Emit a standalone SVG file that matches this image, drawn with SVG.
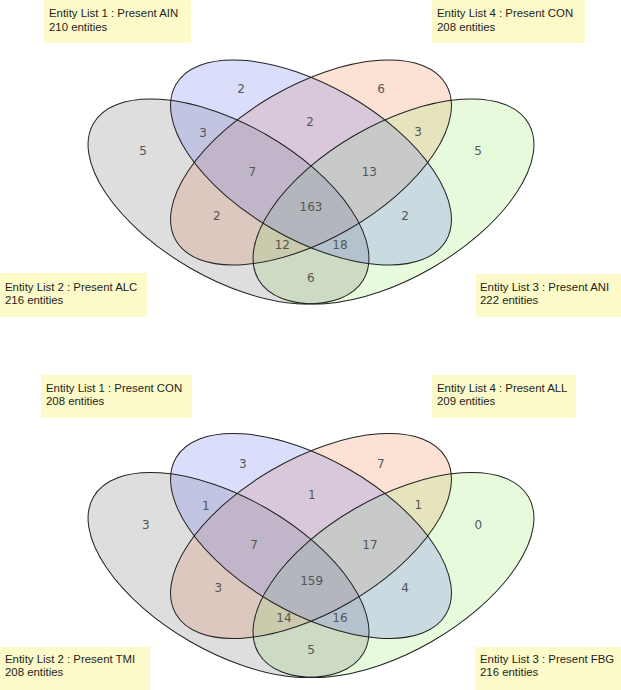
<svg xmlns="http://www.w3.org/2000/svg" xmlns:xlink="http://www.w3.org/1999/xlink" width="621" height="690" viewBox="0 0 621 690">
<style>
.bg{fill:#ffffff}
.box{fill:#fcfac8}
.lbl{font-family:"Liberation Sans",Arial,sans-serif;font-size:11.4px;fill:#1e1e1e}
.n{font-family:"DejaVu Sans",Verdana,sans-serif;font-size:12px;fill:#555555;text-anchor:middle}
.f{stroke:none;fill-opacity:0.25}
.blue{fill:#6b7beb}
.gray{fill:#7b7b7b}
.green{fill:#a3eb73}
.orange{fill:#f38b53}
.o{fill:none;stroke:#222222;stroke-width:1}
</style>
<defs>
<ellipse id="E" cx="0" cy="0" rx="156" ry="76.75"/>
</defs>
<rect class="bg" x="0" y="0" width="621" height="690"/>

<g id="venn-top">
  <g id="top-set4-CON"><use xlink:href="#E" class="f orange" transform="translate(311,162.5) rotate(-30)"/></g>
  <g id="top-set3-ANI"><use xlink:href="#E" class="f green" transform="translate(393.5,201.5) rotate(-30)"/></g>
  <g id="top-set2-ALC"><use xlink:href="#E" class="f gray" transform="translate(228.5,201.5) rotate(30)"/></g>
  <g id="top-set1-AIN"><use xlink:href="#E" class="f blue" transform="translate(311,162.5) rotate(30)"/></g>
  <g id="top-outlines">
    <use xlink:href="#E" class="o" transform="translate(311,162.5) rotate(30)"/>
    <use xlink:href="#E" class="o" transform="translate(228.5,201.5) rotate(30)"/>
    <use xlink:href="#E" class="o" transform="translate(393.5,201.5) rotate(-30)"/>
    <use xlink:href="#E" class="o" transform="translate(311,162.5) rotate(-30)"/>
  </g>
  <g id="top-counts">
    <text class="n" x="241" y="93.3">2</text>
    <text class="n" x="203" y="136.5">3</text>
    <text class="n" x="143" y="155.3">5</text>
    <text class="n" x="310" y="125.8">2</text>
    <text class="n" x="381" y="93.3">6</text>
    <text class="n" x="418" y="136">3</text>
    <text class="n" x="478" y="155">5</text>
    <text class="n" x="252.3" y="176">7</text>
    <text class="n" x="311" y="211">163</text>
    <text class="n" x="369.3" y="176">13</text>
    <text class="n" x="216.7" y="220">2</text>
    <text class="n" x="405" y="220">2</text>
    <text class="n" x="282.3" y="249.3">12</text>
    <text class="n" x="340" y="249.3">18</text>
    <text class="n" x="310.7" y="281.6">6</text>
  </g>
  <g id="top-label1">
    <rect class="box" x="44" y="0" width="147" height="43"/>
    <text class="lbl" x="49" y="17">Entity List 1 : Present AIN</text>
    <text class="lbl" x="49" y="30.5">210 entities</text>
  </g>
  <g id="top-label4">
    <rect class="box" x="432" y="0" width="153" height="43"/>
    <text class="lbl" x="437" y="17">Entity List 4 : Present CON</text>
    <text class="lbl" x="437" y="30.5">208 entities</text>
  </g>
  <g id="top-label2">
    <rect class="box" x="0" y="273" width="147" height="44"/>
    <text class="lbl" x="5" y="290.5">Entity List 2 : Present ALC</text>
    <text class="lbl" x="5" y="304">216 entities</text>
  </g>
  <g id="top-label3">
    <rect class="box" x="476" y="274" width="145" height="43"/>
    <text class="lbl" x="480" y="290.5">Entity List 3 : Present ANI</text>
    <text class="lbl" x="480" y="304">222 entities</text>
  </g>
</g>

<g id="venn-bottom">
  <g id="bot-set4-ALL"><use xlink:href="#E" class="f orange" transform="translate(311,536) rotate(-30)"/></g>
  <g id="bot-set3-FBG"><use xlink:href="#E" class="f green" transform="translate(393.5,575) rotate(-30)"/></g>
  <g id="bot-set2-TMI"><use xlink:href="#E" class="f gray" transform="translate(228.5,575) rotate(30)"/></g>
  <g id="bot-set1-CON"><use xlink:href="#E" class="f blue" transform="translate(311,536) rotate(30)"/></g>
  <g id="bot-outlines">
    <use xlink:href="#E" class="o" transform="translate(311,536) rotate(30)"/>
    <use xlink:href="#E" class="o" transform="translate(228.5,575) rotate(30)"/>
    <use xlink:href="#E" class="o" transform="translate(393.5,575) rotate(-30)"/>
    <use xlink:href="#E" class="o" transform="translate(311,536) rotate(-30)"/>
  </g>
  <g id="bot-counts">
    <text class="n" x="242.7" y="468.3">3</text>
    <text class="n" x="205.7" y="510">1</text>
    <text class="n" x="145.7" y="528.6">3</text>
    <text class="n" x="311.7" y="498.6">1</text>
    <text class="n" x="380.7" y="467.6">7</text>
    <text class="n" x="418.3" y="509.3">1</text>
    <text class="n" x="478.3" y="528.6">0</text>
    <text class="n" x="254" y="549.3">7</text>
    <text class="n" x="311.7" y="585">159</text>
    <text class="n" x="370" y="549.3">17</text>
    <text class="n" x="218.3" y="591.6">3</text>
    <text class="n" x="405" y="591.6">4</text>
    <text class="n" x="284" y="621.6">14</text>
    <text class="n" x="340" y="621.6">16</text>
    <text class="n" x="311" y="653.6">5</text>
  </g>
  <g id="bot-label1">
    <rect class="box" x="41" y="375" width="151" height="43"/>
    <text class="lbl" x="46" y="391.5">Entity List 1 : Present CON</text>
    <text class="lbl" x="46" y="405">208 entities</text>
  </g>
  <g id="bot-label4">
    <rect class="box" x="432" y="375" width="144" height="43"/>
    <text class="lbl" x="437" y="391.5">Entity List 4 : Present ALL</text>
    <text class="lbl" x="437" y="405">209 entities</text>
  </g>
  <g id="bot-label2">
    <rect class="box" x="0" y="647" width="150" height="43"/>
    <text class="lbl" x="5" y="662.5">Entity List 2 : Present TMI</text>
    <text class="lbl" x="5" y="676">208 entities</text>
  </g>
  <g id="bot-label3">
    <rect class="box" x="475" y="647" width="146" height="43"/>
    <text class="lbl" x="480" y="662.5">Entity List 3 : Present FBG</text>
    <text class="lbl" x="480" y="676">216 entities</text>
  </g>
</g>
</svg>
